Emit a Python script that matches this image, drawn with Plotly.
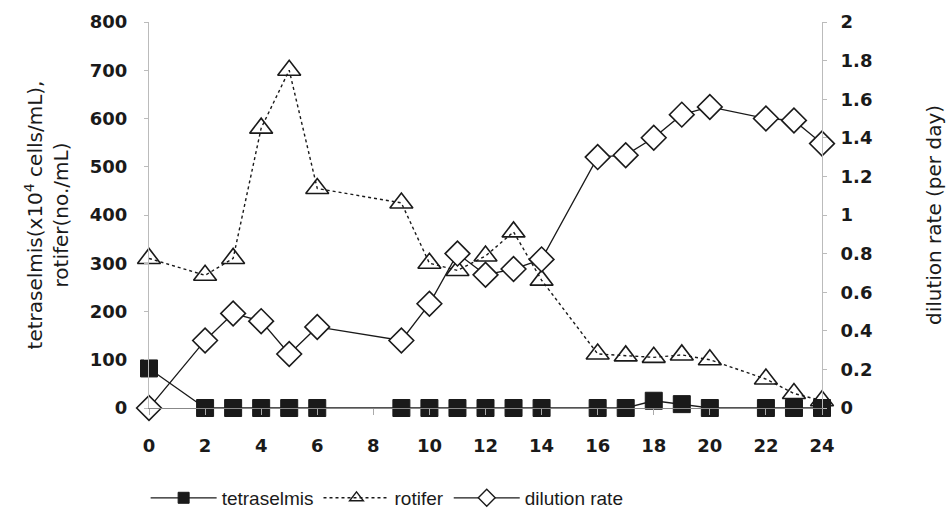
import plotly.graph_objects as go

days = [0, 2, 3, 4, 5, 6, 9, 10, 11, 12, 13, 14, 16, 17, 18, 19, 20, 22, 23, 24]
tetraselmis = [82, 0, 0, 0, 0, 0, 0, 0, 0, 0, 0, 0, 0, 0, 15, 8, 0, 0, 0, 0]
rotifer = [310, 275, 310, 580, 700, 455, 425, 300, 285, 315, 365, 265, 112, 108, 105, 110, 100, 60, 30, 15]
dilution = [0.0, 0.35, 0.49, 0.45, 0.28, 0.42, 0.35, 0.54, 0.80, 0.69, 0.72, 0.77, 1.30, 1.31, 1.40, 1.52, 1.56, 1.50, 1.49, 1.37]

x_ticks = list(range(0, 25, 2))
left_ticks = list(range(0, 801, 100))
right_ticks = [0, 0.2, 0.4, 0.6, 0.8, 1, 1.2, 1.4, 1.6, 1.8, 2]
right_tick_text = ["0", "0.2", "0.4", "0.6", "0.8", "1", "1.2", "1.4", "1.6", "1.8", "2"]
series_names = ["tetraselmis", "rotifer", "dilution rate"]

TICKFONT = dict(family="DejaVu Sans", size=18, color="#1a1a1a", weight="bold")
TITLEFONT = dict(family="DejaVu Sans", size=20, color="#1a1a1a")
LEGFONT = dict(family="Liberation Sans, Arial, sans-serif", size=19, color="#1a1a1a")
INK = "#1a1a1a"

styles = [
    dict(line=dict(color=INK, width=1.3),
         marker=dict(symbol="square", size=17, color=INK, line=dict(color=INK, width=1)),
         leg_marker=dict(symbol="square", size=11, color=INK, line=dict(color=INK, width=1))),
    dict(line=dict(color=INK, width=1.4, dash="dot"),
         marker=dict(symbol="triangle-up-open", size=20, color=INK, line=dict(color=INK, width=1.6)),
         leg_marker=dict(symbol="triangle-up-open", size=12, color=INK, line=dict(color=INK, width=1.4))),
    dict(line=dict(color=INK, width=1.3),
         marker=dict(symbol="diamond", size=19, color="white", line=dict(color=INK, width=1.6)),
         leg_marker=dict(symbol="diamond", size=13, color="white", line=dict(color=INK, width=1.4))),
]
values = [tetraselmis, rotifer, dilution]
axes = ["y", "y", "y2"]

fig = go.Figure()
for name, vals, st, ax in zip(series_names, values, styles, axes):
    fig.add_trace(go.Scatter(
        x=days, y=vals, name=name, mode="lines+markers", yaxis=ax, cliponaxis=False,
        line=st["line"], marker=st["marker"], showlegend=False,
    ))
for name, st in zip(series_names, styles):
    fig.add_trace(go.Scatter(
        x=[None], y=[None], name=name, mode="lines+markers",
        line=st["line"], marker=st["leg_marker"], showlegend=True,
    ))

fig.update_layout(
    width=949, height=513,
    paper_bgcolor="white", plot_bgcolor="white",
    margin=dict(l=149, r=127, t=22, b=105, autoexpand=False),
    font=dict(family="DejaVu Sans", size=16, color=INK),
    xaxis=dict(
        range=[0, 24], tickvals=x_ticks, showgrid=False, zeroline=False,
        showline=True, linecolor="#888", linewidth=1, automargin=False,
        ticks="outside", ticklen=6, tickcolor="#aaa",
        tickfont=TICKFONT, ticklabelstandoff=15,
    ),
    yaxis=dict(
        range=[0, 800], tickvals=left_ticks, showgrid=False, zeroline=False,
        showline=True, linecolor="#bbb", linewidth=1, automargin=False,
        ticks="outside", ticklen=4, tickcolor="#bbb",
        tickfont=TICKFONT, ticklabelstandoff=13,
        title=dict(text="tetraselmis(x10<sup>4</sup> cells/mL),<br>rotifer(no./mL)",
                   font=TITLEFONT, standoff=15),
    ),
    yaxis2=dict(
        range=[0, 2], tickvals=right_ticks, ticktext=right_tick_text,
        overlaying="y", side="right", showgrid=False, zeroline=False,
        showline=True, linecolor="#bbb", linewidth=1, automargin=False,
        ticks="outside", ticklen=4, tickcolor="#bbb",
        tickfont=TICKFONT, ticklabelstandoff=10,
        title=dict(text="dilution rate (per day)", font=TITLEFONT, standoff=55),
    ),
    legend=dict(
        orientation="h", x=-0.005, xanchor="left", y=-0.233, yanchor="middle",
        font=LEGFONT, itemwidth=66, tracegroupgap=0,
        bgcolor="rgba(0,0,0,0)",
    ),
)

fig.write_html("out.html", config={"displayModeBar": False},
               post_script="document.body.style.margin='0';")
